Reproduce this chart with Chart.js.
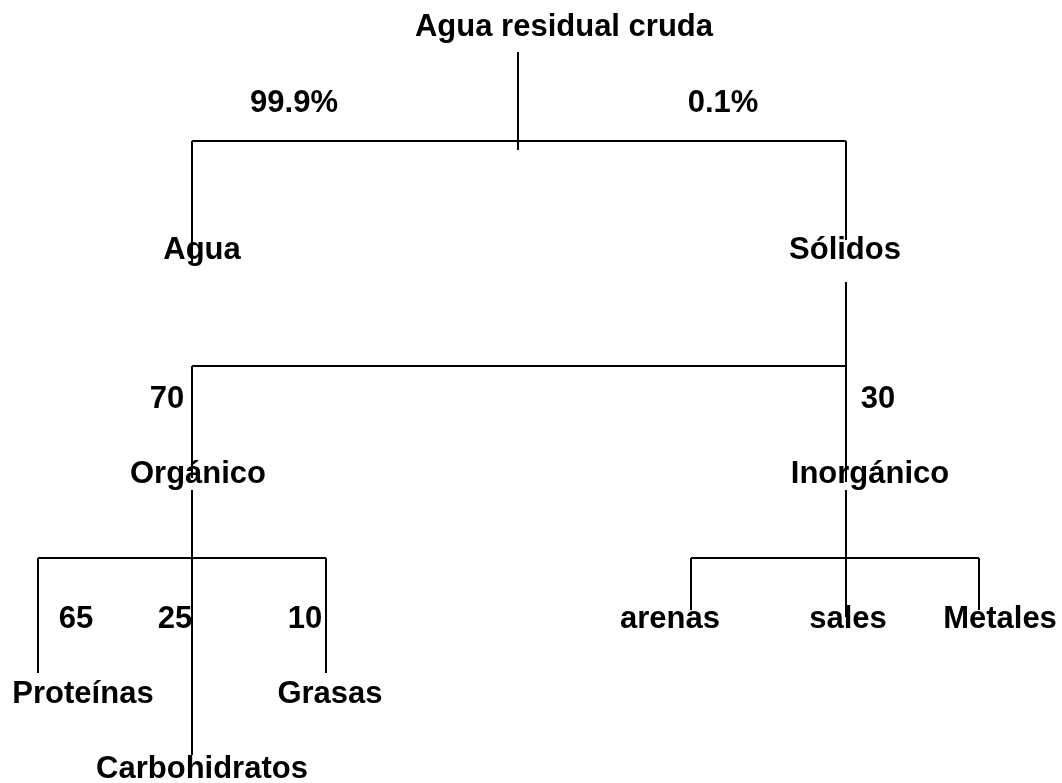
<!DOCTYPE html>
<html lang="es">
<head>
    <meta charset="UTF-8">
    <title>Agua residual cruda</title>
    <script src="https://cdn.jsdelivr.net/npm/chart.js"></script>
    <style>
        body { margin: 0; background: #fff; }
    </style>
</head>
<body>
    <canvas id="myChart" width="1062" height="783"></canvas>

    <script>
        // nodos del arbol (texto, x, y de la linea base)
        const nodeLabels = ['Agua residual cruda', 'Agua', 'Sólidos', 'Orgánico', 'Inorgánico',
                            'Proteínas', 'Grasas', 'Carbohidratos', 'arenas', 'sales', 'Metales'];
        const nodeX = [564, 202, 845, 198, 870, 83, 330, 202, 670, 848, 1000];
        const nodeY = [36, 259, 259, 483, 483, 703, 703, 778, 628, 628, 628];

        // porcentajes de cada rama
        const shareLabels = ['99.9%', '0.1%', '70', '30', '65', '25', '10'];
        const shareX = [294, 723, 167, 878, 76, 175, 305];
        const shareY = [112, 112, 408, 408, 628, 628, 628];

        // conectores [x1, y1, x2, y2]
        const links = [
            [518, 52, 518, 150],
            [192, 141, 846, 141],
            [192, 141, 192, 262],
            [846, 141, 846, 240],
            [846, 282, 846, 482],
            [192, 366, 846, 366],
            [192, 366, 192, 478],
            [846, 490, 846, 617],
            [192, 490, 192, 755],
            [38, 558, 326, 558],
            [38, 558, 38, 673],
            [326, 558, 326, 673],
            [691, 558, 979, 558],
            [691, 558, 691, 610],
            [979, 558, 979, 610]
        ];

        const datasets = links.map(l => ({
            data: [{x: l[0], y: l[1]}, {x: l[2], y: l[3]}],
            showLine: true,
            borderColor: '#000',
            borderWidth: 2,
            pointRadius: 0,
            fill: false,
            clip: false
        }));

        const treeText = {
            id: 'treeText',
            afterDatasetsDraw(chart) {
                const ctx = chart.ctx;
                const xs = chart.scales.x;
                const ys = chart.scales.y;
                ctx.save();
                ctx.fillStyle = '#000';
                ctx.font = 'bold 31px "Liberation Sans", Arial, sans-serif';
                ctx.textAlign = 'center';
                ctx.textBaseline = 'alphabetic';
                nodeLabels.forEach((t, i) => {
                    ctx.fillText(t, xs.getPixelForValue(nodeX[i]), ys.getPixelForValue(nodeY[i]));
                });
                shareLabels.forEach((t, i) => {
                    ctx.fillText(t, xs.getPixelForValue(shareX[i]), ys.getPixelForValue(shareY[i]));
                });
                ctx.restore();
            }
        };

        const ctx = document.getElementById('myChart').getContext('2d');
        const myChart = new Chart(ctx, {
            type: 'scatter',
            data: { datasets: datasets },
            options: {
                responsive: false,
                animation: false,
                layout: { padding: 0 },
                plugins: {
                    legend: { display: false },
                    tooltip: { enabled: false }
                },
                scales: {
                    x: { type: 'linear', min: 0, max: 1062, display: false },
                    y: { type: 'linear', min: 0, max: 783, reverse: true, display: false }
                }
            },
            plugins: [treeText]
        });
    </script>
</body>
</html>
